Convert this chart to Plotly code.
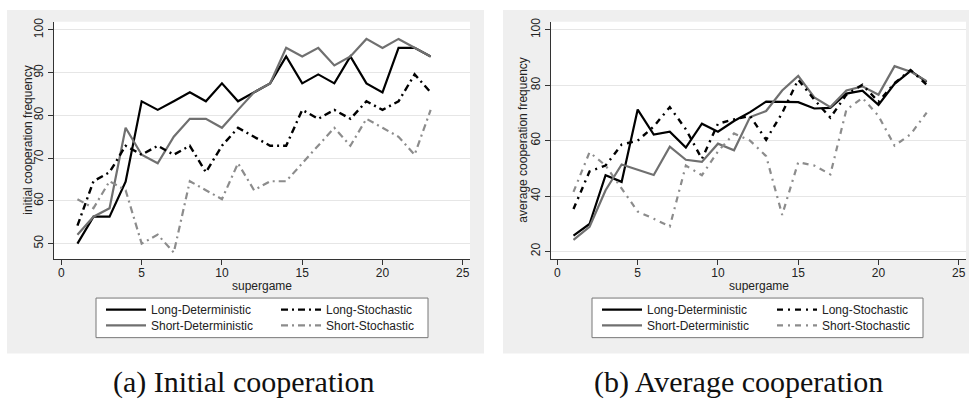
import plotly.graph_objects as go

supergame = list(range(1, 24))

# (a) Initial cooperation frequency
init_long_det = [50.0, 56.3, 56.3, 64.5, 83.3, 81.3, 83.3, 85.4, 83.3, 87.5, 83.3, 85.4,
                 87.5, 93.8, 87.5, 89.6, 87.5, 93.8, 87.5, 85.4, 95.8, 95.8, 93.8]
init_short_det = [52.1, 56.3, 58.3, 77.1, 70.8, 68.8, 75.0, 79.2, 79.2, 77.1, 81.3, 85.4,
                  87.5, 95.8, 93.8, 95.8, 91.7, 93.8, 97.9, 95.8, 97.9, 95.8, 93.8]
init_long_sto = [54.2, 64.6, 66.7, 72.9, 70.8, 72.9, 70.8, 72.9, 66.7, 72.9, 77.1, 75.0,
                 72.9, 72.9, 81.3, 79.2, 81.3, 79.2, 83.3, 81.3, 83.3, 89.6, 85.4]
init_short_sto = [60.4, 58.3, 64.6, 62.5, 50.0, 52.1, 47.9, 64.6, 62.5, 60.4, 68.8, 62.5,
                  64.6, 64.6, 68.8, 72.9, 77.1, 72.9, 79.2, 77.1, 75.0, 70.8, 81.3]

# (b) Average cooperation frequency
avg_long_det = [25.7, 29.9, 47.5, 45.1, 71.2, 62.2, 63.2, 57.5, 66.1, 63.2, 67.1, 70.3,
                74.1, 73.9, 73.9, 71.6, 71.8, 77.0, 78.0, 72.9, 80.5, 85.2, 81.2]
avg_short_det = [24.2, 28.9, 42.1, 51.4, 49.5, 47.6, 57.8, 53.1, 52.3, 58.9, 56.5, 68.5,
                 70.7, 78.1, 83.4, 75.6, 72.1, 78.1, 79.6, 76.6, 86.9, 84.9, 81.5]
avg_long_sto = [35.3, 48.9, 51.0, 58.6, 60.0, 65.1, 72.1, 64.1, 53.4, 66.1, 67.7, 68.9,
                60.3, 70.0, 82.0, 74.8, 68.3, 76.6, 80.2, 74.0, 80.8, 85.5, 80.2]
avg_short_sto = [41.5, 55.8, 51.0, 42.7, 34.4, 31.8, 29.0, 51.0, 47.5, 56.1, 62.6, 60.0,
                 54.4, 33.2, 52.2, 51.0, 47.8, 71.2, 75.4, 68.9, 58.2, 62.3, 70.1]

names = ["Long-Deterministic", "Short-Deterministic", "Long-Stochastic", "Short-Stochastic"]
x_ticks = [0, 5, 10, 15, 20, 25]
y_ticks_a = [50, 60, 70, 80, 90, 100]
y_ticks_b = [20, 40, 60, 80, 100]
x_title = "supergame"
y_title_a = "initial cooperation frequency"
y_title_b = "average cooperation frequency"
caption_a = "(a) Initial cooperation"
caption_b = "(b) Average cooperation"

W, H = 969, 403
def fx(p): return p / W
def fy(p): return 1 - p / H

FONT = "Liberation Sans, Arial, sans-serif"

styles_a = [
    dict(color="#000000", width=2.2, dash="solid"),
    dict(color="#707070", width=2.2, dash="solid"),
    dict(color="#000000", width=2.4, dash="7px,4px,2px,4px"),
    dict(color="#8c8c8c", width=2.2, dash="7px,4px,2px,4px"),
]
styles_b = [
    dict(color="#000000", width=2.2, dash="solid"),
    dict(color="#707070", width=2.2, dash="solid"),
    dict(color="#000000", width=2.4, dash="6px,5px,2px,5px"),
    dict(color="#8c8c8c", width=2.2, dash="6px,5px,2px,5px"),
]

data_a = [init_long_det, init_short_det, init_long_sto, init_short_sto]
data_b = [avg_long_det, avg_short_det, avg_long_sto, avg_short_sto]

# one legend per entry so that rows can sit as close as in the reference
leg_pos_a = [(101, 294), (101, 310), (276, 294), (276, 310)]
leg_pos_b = [(597, 294), (597, 310), (772, 294), (772, 310)]

fig = go.Figure()
for i in range(4):
    fig.add_trace(go.Scatter(x=supergame, y=data_a[i], mode="lines", name=names[i],
                             line=styles_a[i], xaxis="x", yaxis="y",
                             legend="legend" if i == 0 else f"legend{i + 1}",
                             showlegend=True))
for i in range(4):
    fig.add_trace(go.Scatter(x=supergame, y=data_b[i], mode="lines", name=names[i],
                             line=styles_b[i], xaxis="x2", yaxis="y2",
                             legend=f"legend{i + 5}", showlegend=True))

axis_common = dict(showline=True, linecolor="#333333", linewidth=1, ticks="outside",
                   ticklen=5, tickcolor="#333333", tickfont=dict(size=12, color="#222"),
                   zeroline=False)

fig.update_layout(
    width=W, height=H, margin=dict(l=0, r=0, t=0, b=0),
    paper_bgcolor="white", plot_bgcolor="rgba(0,0,0,0)",
    font=dict(family=FONT, size=12, color="#222222"),
    xaxis=dict(domain=[fx(54), fx(470)], range=[-0.46, 25.45], tickvals=x_ticks,
               showgrid=False, anchor="y", ticklabelstandoff=-3, **axis_common),
    yaxis=dict(domain=[fy(258), fy(18)], range=[46.3, 101.9], tickvals=y_ticks_a,
               tickangle=-90, showgrid=True, gridcolor="#e6e6e6", gridwidth=1, anchor="x",
               **axis_common),
    xaxis2=dict(domain=[fx(551), fx(966)], range=[-0.4, 25.45], tickvals=x_ticks,
                showgrid=False, anchor="y2", ticklabelstandoff=-3, **axis_common),
    yaxis2=dict(domain=[fy(258), fy(18)], range=[17.1, 102.9], tickvals=y_ticks_b,
                tickangle=-90, showgrid=True, gridcolor="#e6e6e6", gridwidth=1, anchor="x2",
                **axis_common),
)

leg_common = dict(bgcolor="rgba(0,0,0,0)", borderwidth=0, xanchor="left", yanchor="top",
                  font=dict(size=12, color="#222"), tracegroupgap=0, itemwidth=40)
leg_layout = {}
for i, (lx, ly) in enumerate(leg_pos_a + leg_pos_b):
    key = "legend" if i == 0 else f"legend{i + 1}"
    leg_layout[key] = dict(x=fx(lx), y=fy(ly), **leg_common)
fig.update_layout(**leg_layout)

shapes = [
    dict(type="rect", xref="paper", yref="paper", x0=fx(7), x1=fx(484), y0=fy(353), y1=fy(6),
         fillcolor="#efefef", line=dict(width=0), layer="below"),
    dict(type="rect", xref="paper", yref="paper", x0=fx(503), x1=fx(972), y0=fy(353), y1=fy(6),
         fillcolor="#efefef", line=dict(width=0), layer="below"),
    dict(type="rect", xref="x domain", yref="y domain", x0=0, x1=1, y0=0, y1=1,
         fillcolor="white", line=dict(width=0), layer="below"),
    dict(type="rect", xref="x2 domain", yref="y2 domain", x0=0, x1=1, y0=0, y1=1,
         fillcolor="white", line=dict(width=0), layer="below"),
    dict(type="rect", xref="paper", yref="paper", x0=fx(96), x1=fx(428), y0=fy(337), y1=fy(297),
         fillcolor="white", line=dict(color="#777777", width=1), layer="below"),
    dict(type="rect", xref="paper", yref="paper", x0=fx(592), x1=fx(923), y0=fy(337), y1=fy(297),
         fillcolor="white", line=dict(color="#777777", width=1), layer="below"),
]
fig.update_layout(shapes=shapes)

title_font = dict(family=FONT, size=12, color="#222")
fig.add_annotation(text=x_title, xref="x domain", yref="paper", x=0.5, y=fy(285),
                   xanchor="center", yanchor="middle", showarrow=False, font=title_font)
fig.add_annotation(text=x_title, xref="x2 domain", yref="paper", x=0.5, y=fy(285),
                   xanchor="center", yanchor="middle", showarrow=False, font=title_font)
fig.add_annotation(text=y_title_a, xref="paper", yref="y domain", x=fx(28), y=0.5,
                   xanchor="center", yanchor="middle", textangle=-90, showarrow=False,
                   font=title_font)
fig.add_annotation(text=y_title_b, xref="paper", yref="y2 domain", x=fx(523), y=0.5,
                   xanchor="center", yanchor="middle", textangle=-90, showarrow=False,
                   font=title_font)

cap_font = dict(family="Liberation Serif, Times New Roman, serif", size=30, color="#111")
fig.add_annotation(text=caption_a, xref="paper", yref="paper",
                   x=fx(244), y=fy(382), xanchor="center", yanchor="middle",
                   showarrow=False, font=cap_font)
fig.add_annotation(text=caption_b, xref="paper", yref="paper",
                   x=fx(738), y=fy(382), xanchor="center", yanchor="middle",
                   showarrow=False, font=cap_font)

fig.write_html("out.html", config={"displayModeBar": False},
               post_script="document.body.style.margin='0px';")
